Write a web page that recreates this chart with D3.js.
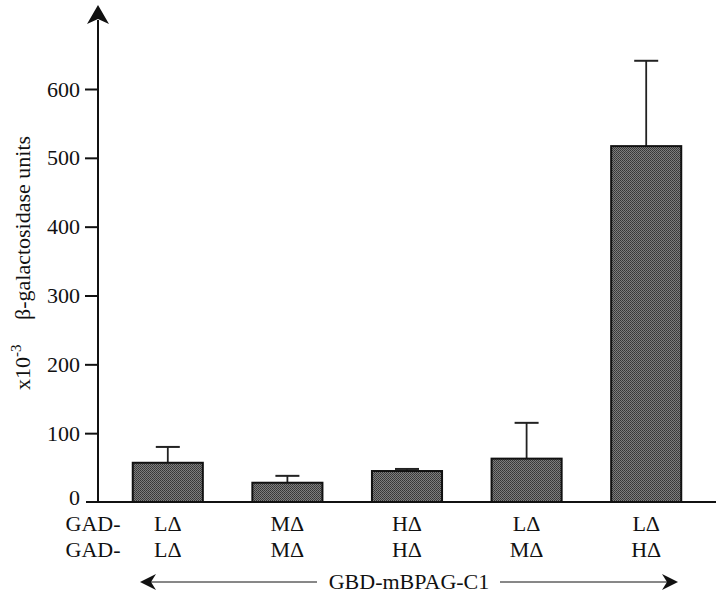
<!DOCTYPE html>
<html><head><meta charset="utf-8">
<script src="https://cdn.jsdelivr.net/npm/d3@7"></script>
<style>body{margin:0;background:#fff}svg{display:block}text{font-family:"Liberation Serif","Times New Roman",serif;fill:#111}</style>
</head><body>
<script>
const row1Labels = ["LΔ","MΔ","HΔ","LΔ","LΔ"];
const row2Labels = ["LΔ","MΔ","HΔ","MΔ","HΔ"];
const values = [57, 28, 45, 63, 517];
const errors = [23, 10, 3, 52, 124];
const yTicks = [0,100,200,300,400,500,600];
const categories = row1Labels.map((d,i)=>d+"/"+row2Labels[i]);

const W=720,H=595,FS="22px";
const svg=d3.select("body").append("svg").attr("width",W).attr("height",H);
const defs=svg.append("defs");
const pat=defs.append("pattern").attr("id","chk").attr("patternUnits","userSpaceOnUse").attr("width",2).attr("height",2);
pat.append("rect").attr("width",2).attr("height",2).attr("fill","#7e7e7e");
pat.append("rect").attr("width",1).attr("height",1).attr("fill","#363636");
pat.append("rect").attr("x",1).attr("y",1).attr("width",1).attr("height",1).attr("fill","#404040");

const y=d3.scaleLinear().domain([0,600]).range([502,89]);
const x=d3.scaleBand().domain(categories).range([108,706]).paddingInner(0.414).paddingOuter(0.207);
const axX=98;

// y axis
const yAxis=d3.axisLeft(y).tickValues(yTicks).tickSize(13).tickPadding(5).tickFormat(d3.format("d"));
const gy=svg.append("g").attr("transform",`translate(${axX},0)`).call(yAxis);
gy.select(".domain").remove();
gy.selectAll(".tick line").attr("stroke","#111").attr("stroke-width",2);
gy.selectAll(".tick text").style("font-size",FS).attr("font-family","Liberation Serif").attr("fill","#111");
gy.selectAll(".tick").filter(d=>d===0).select("text").attr("dy","0.1em");
gy.selectAll(".tick").filter(d=>d===0).select("line").remove();
svg.append("line").attr("x1",axX).attr("x2",axX).attr("y1",y(0)).attr("y2",20).attr("stroke","#111").attr("stroke-width",2);
svg.append("path").attr("d",`M${axX},5 L${axX+11},24 L${axX},19 L${axX-11},24 Z`).attr("fill","#111");

// baseline
svg.append("line").attr("x1",86).attr("x2",716).attr("y1",y(0)).attr("y2",y(0)).attr("stroke","#111").attr("stroke-width",2);

// error bars
const eg=svg.append("g");
categories.forEach((c,i)=>{
  const cx=x(c)+x.bandwidth()/2;
  eg.append("line").attr("x1",cx).attr("x2",cx).attr("y1",y(values[i])).attr("y2",y(values[i]+errors[i])).attr("stroke","#222").attr("stroke-width",1.8);
  eg.append("line").attr("x1",cx-12).attr("x2",cx+12).attr("y1",y(values[i]+errors[i])).attr("y2",y(values[i]+errors[i])).attr("stroke","#222").attr("stroke-width",2);
});
// bars
svg.append("g").selectAll("rect").data(values).join("rect")
  .attr("x",(d,i)=>x(categories[i])).attr("width",x.bandwidth())
  .attr("y",d=>y(d)).attr("height",d=>y(0)-y(d))
  .attr("fill","url(#chk)").attr("stroke","#111").attr("stroke-width",2);

// category labels
const lab=svg.append("g").style("font-size",FS);
lab.append("text").attr("x",93).attr("y",531).attr("text-anchor","middle").text("GAD-");
lab.append("text").attr("x",93).attr("y",557).attr("text-anchor","middle").text("GAD-");
categories.forEach((c,i)=>{
  const cx=x(c)+x.bandwidth()/2;
  lab.append("text").attr("x",cx).attr("y",531).attr("text-anchor","middle").text(row1Labels[i]);
  lab.append("text").attr("x",cx).attr("y",557).attr("text-anchor","middle").text(row2Labels[i]);
});

// bottom arrow
const ay=582;
svg.append("line").attr("x1",148).attr("x2",317).attr("y1",ay).attr("y2",ay).attr("stroke","#111").attr("stroke-width",1);
svg.append("line").attr("x1",500).attr("x2",670).attr("y1",ay).attr("y2",ay).attr("stroke","#111").attr("stroke-width",1);
svg.append("path").attr("d",`M140,${ay} L156,${ay-8} L151,${ay} L156,${ay+8} Z`).attr("fill","#111");
svg.append("path").attr("d",`M678,${ay} L662,${ay-8} L667,${ay} L662,${ay+8} Z`).attr("fill","#111");
svg.append("text").attr("x",409).attr("y",ay+7).attr("text-anchor","middle").style("font-size",FS).text("GBD-mBPAG-C1");

// y label
const yl1=svg.append("text").attr("transform","translate(30,390) rotate(-90)").attr("text-anchor","start").style("font-size",FS);
yl1.append("tspan").text("x10");
yl1.append("tspan").attr("dy",-9).style("font-size","15px").text("-3");
svg.append("text").attr("transform","translate(30,320) rotate(-90)").attr("text-anchor","start").style("font-size",FS).text("β-galactosidase units");
</script>
</body></html>
